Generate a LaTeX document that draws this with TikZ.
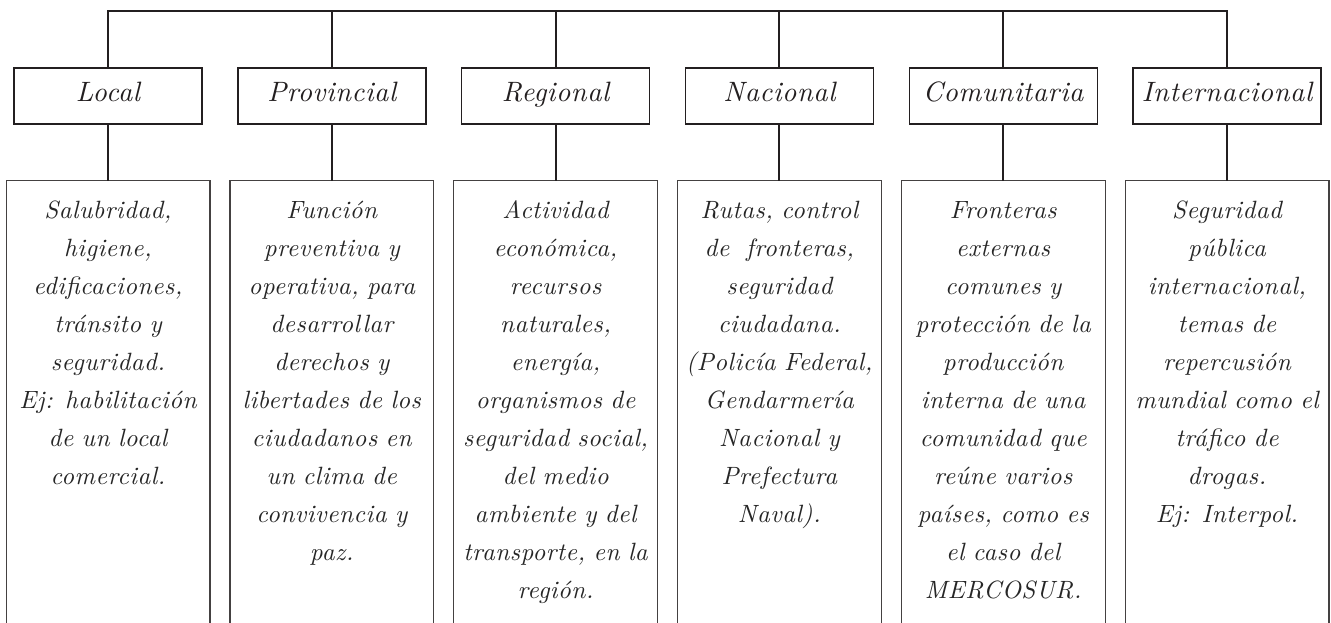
\documentclass[tikz,border=0pt]{standalone}
\usepackage{fontspec}
\setmainfont{lmroman10-regular.otf}[ItalicFont=lmroman10-italic.otf, LetterSpace=2]
\usepackage{xcolor}
\usepackage{tikz}
\usetikzlibrary{positioning}

\definecolor{inkline}{HTML}{231F20}
\definecolor{inktext}{HTML}{262626}

\begin{document}
\begin{tikzpicture}[x=0.5pt, y=-0.5pt,
    level/.style={draw=inkline, line width=0.7pt, minimum width=94pt, minimum height=28pt,
        inner sep=0pt, text height=0.72em, text depth=0.2em, text=inkline, font=\fontsize{14}{16}\selectfont\itshape},
    desc/.style={text width=101pt, inner xsep=0.25pt, inner ysep=5.2pt, align=center,
        text=inktext, font=\fontsize{12.5}{19}\selectfont\itshape, execute at begin node=\strut},
    link/.style={draw=inkline, line width=1pt},
    frame/.style={draw=inkline!85, line width=0.6pt}]
    \useasboundingbox (0,0) rectangle (1331,622);
    \clip (0,0) rectangle (1331,622);

    % Levels
    \node [level] (local) at (108,96) {Local};
    \node [level, right of=local, node distance=111.9pt] (provincial) {Provincial};
    \node [level, right of=provincial, node distance=111.9pt] (regional) {Regional};
    \node [level, right of=regional, node distance=111.9pt] (nacional) {Nacional};
    \node [level, right of=nacional, node distance=111.9pt] (comunitaria) {Comunitaria};
    \node [level, right of=comunitaria, node distance=111.9pt] (internacional) {Internacional};

    % Descriptions
    \node [desc, below=28pt of local] (dlocal) {Salubridad,\\ higiene,\\ edificaciones,\\ tránsito y\\ seguridad.\\ Ej: habilitación\\ de un local\\ comercial.};
    \node [desc, below=28pt of provincial] (dprovincial) {Función\\ preventiva y\\ operativa, para\\ desarrollar\\ derechos y\\ libertades de los\\ ciudadanos en\\ un clima de\\ convivencia y\\ paz.};
    \node [desc, below=28pt of regional] (dregional) {Actividad\\ económica,\\ recursos\\ naturales,\\ energía,\\ organismos de\\ seguridad social,\\ del medio\\ ambiente y del\\ transporte, en la\\ región.};
    \node [desc, below=28pt of nacional] (dnacional) {Rutas, control\\ de\ \ fronteras,\\ seguridad\\ ciudadana.\\ (Policía Federal,\\ Gendarmería\\ Nacional y\\ Prefectura\\ Naval).};
    \node [desc, below=28pt of comunitaria] (dcomunitaria) {Fronteras\\ externas\\ comunes y\\ protección de la\\ producción\\ interna de una\\ comunidad que\\ reúne varios\\ países, como es\\ el caso del\\ MERCOSUR.};
    \node [desc, below=28pt of internacional] (dinternacional) {Seguridad\\ pública\\ internacional,\\ temas de\\ repercusión\\ mundial como el\\ tráfico de\\ drogas.\\ Ej: Interpol.};

    % Open frames round the descriptions
    \draw [frame] ([yshift=-250pt]dlocal.north west) -- (dlocal.north west) -- (dlocal.north east) -- ([yshift=-250pt]dlocal.north east);
    \draw [frame] ([yshift=-250pt]dprovincial.north west) -- (dprovincial.north west) -- (dprovincial.north east) -- ([yshift=-250pt]dprovincial.north east);
    \draw [frame] ([yshift=-250pt]dregional.north west) -- (dregional.north west) -- (dregional.north east) -- ([yshift=-250pt]dregional.north east);
    \draw [frame] ([yshift=-250pt]dnacional.north west) -- (dnacional.north west) -- (dnacional.north east) -- ([yshift=-250pt]dnacional.north east);
    \draw [frame] ([yshift=-250pt]dcomunitaria.north west) -- (dcomunitaria.north west) -- (dcomunitaria.north east) -- ([yshift=-250pt]dcomunitaria.north east);
    \draw [frame] ([yshift=-250pt]dinternacional.north west) -- (dinternacional.north west) -- (dinternacional.north east) -- ([yshift=-250pt]dinternacional.north east);

    % Top bar
    \draw [link] (local.north) -- ++(0,28pt) coordinate (bar) -| (internacional.north);
    \draw [link] (provincial.north) -- (provincial.north |- bar);
    \draw [link] (regional.north) -- (regional.north |- bar);
    \draw [link] (nacional.north) -- (nacional.north |- bar);
    \draw [link] (comunitaria.north) -- (comunitaria.north |- bar);

    % Level to description
    \draw [link] (local) -- (dlocal);
    \draw [link] (provincial) -- (dprovincial);
    \draw [link] (regional) -- (dregional);
    \draw [link] (nacional) -- (dnacional);
    \draw [link] (comunitaria) -- (dcomunitaria);
    \draw [link] (internacional) -- (dinternacional);
\end{tikzpicture}
\end{document}
